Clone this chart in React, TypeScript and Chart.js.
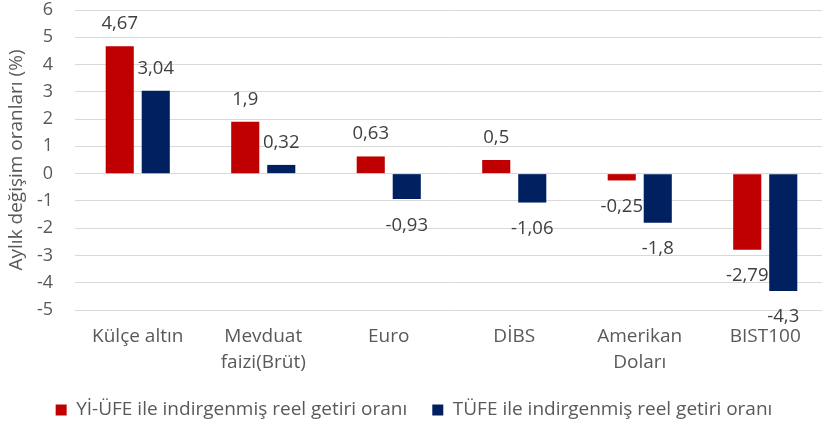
import React, { useEffect, useRef } from "react";
import { Chart, registerables } from "chart.js";

Chart.register(...registerables);

const categories: string[][] = [
  ["Külçe altın"],
  ["Mevduat", "faizi(Brüt)"],
  ["Euro"],
  ["DİBS"],
  ["Amerikan", "Doları"],
  ["BIST100"],
];
const seriesNames = [
  "Yİ-ÜFE ile indirgenmiş reel getiri oranı",
  "TÜFE ile indirgenmiş reel getiri oranı",
];
const yiUfeValues = [4.67, 1.9, 0.63, 0.5, -0.25, -2.79];
const tufeValues = [3.04, 0.32, -0.93, -1.06, -1.8, -4.3];
const yTicks = [-5, -4, -3, -2, -1, 0, 1, 2, 3, 4, 5, 6];

const FONT = "'Open Sans', sans-serif";
const FS = 19;
const LABEL_FS = 18.5;
const TICK_FS = 18;

const valueLabels = {
  id: "valueLabels",
  afterDatasetsDraw(chart: any) {
    const ctx = chart.ctx;
    ctx.save();
    ctx.font = `${LABEL_FS}px ${FONT}`;
    ctx.fillStyle = "#404040";
    ctx.textAlign = "center";
    ctx.textBaseline = "alphabetic";
    chart.data.datasets.forEach((ds: any, di: number) => {
      const meta = chart.getDatasetMeta(di);
      meta.data.forEach((el: any, i: number) => {
        const v = ds.data[i];
        const txt = String(v).replace(".", ",");
        const y = v >= 0 ? el.y - 17 : el.y + 31.5;
        ctx.fillText(txt, el.x, y);
      });
    });
    ctx.restore();
  },
};

export default function App() {
  const ref = useRef<HTMLCanvasElement | null>(null);
  useEffect(() => {
    document.body.style.overflow = "hidden";
    const chart = new Chart(ref.current as HTMLCanvasElement, {
      type: "bar",
      data: {
        labels: categories,
        datasets: [
          {
            label: seriesNames[0],
            data: yiUfeValues,
            backgroundColor: "#C00000",
            categoryPercentage: 0.574,
            barPercentage: 0.78,
          },
          {
            label: seriesNames[1],
            data: tufeValues,
            backgroundColor: "#002060",
            categoryPercentage: 0.574,
            barPercentage: 0.78,
          },
        ],
      },
      options: {
        animation: false,
        responsive: false,
        maintainAspectRatio: false,
        layout: { padding: { top: 10, bottom: 0, left: 0, right: 0 } },
        plugins: {
          tooltip: { enabled: false },
          legend: {
            position: "bottom",
            maxHeight: 51.5,
            labels: {
              boxWidth: 11,
              boxHeight: 11,
              padding: 25,
              color: "#595959",
              font: { family: FONT, size: FS },
            },
          },
        },
        scales: {
          x: {
            grid: { display: false },
            border: { display: false },
            ticks: {
              color: "#595959",
              font: { family: FONT, size: FS, lineHeight: 1.37 },
              padding: 6,
              maxRotation: 0,
              autoSkip: false,
            },
            afterFit: (s: any) => {
              s.height = 65.5;
            },
          },
          y: {
            min: -5,
            max: 6,
            afterBuildTicks: (s: any) => {
              s.ticks = yTicks.map((v) => ({ value: v }));
            },
            grid: {
              color: "#d9d9d9",
              lineWidth: 1,
              drawTicks: true,
              tickLength: 22,
              tickColor: "rgba(0,0,0,0)",
            },
            border: { display: false },
            ticks: {
              color: "#595959",
              font: { family: FONT, size: TICK_FS, lineHeight: 1.05 },
              padding: 0,
            },
            title: {
              display: true,
              text: "Aylık değişim oranları (%)",
              color: "#595959",
              font: { family: FONT, size: FS },
              padding: { top: 5, bottom: 0 },
            },
            afterFit: (s: any) => {
              s.width = 75;
            },
          },
        },
      },
      plugins: [valueLabels],
    });
    return () => chart.destroy();
  }, []);
  return (
    <div style={{ position: "fixed", left: 0, top: 0, width: 828, height: 427 }}>
      <canvas ref={ref} width={828} height={427} style={{ display: "block" }} />
    </div>
  );
}
